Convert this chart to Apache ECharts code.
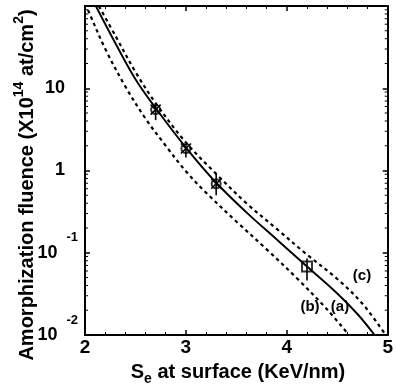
<!DOCTYPE html>
<html>
<head>
<meta charset="utf-8">
<script src="https://cdn.jsdelivr.net/npm/echarts@6/dist/echarts.min.js"></script>
<style>
  html, body { margin: 0; padding: 0; background: #fff; }
  #chart { width: 396px; height: 389px; }
</style>
</head>
<body>
<div id="chart"></div>
<script>
  // curve (a): solid
  const seA = [2.107, 2.3, 2.5, 2.7, 3.0, 3.3, 3.6, 3.9, 4.2, 4.5, 4.7, 4.87];
  const fluA = [100, 35.5, 12.9, 5.75, 1.9, 0.71, 0.31, 0.145, 0.068, 0.032, 0.018, 0.01];
  // curve (b): lower dashed
  const seB = [2.0, 2.03, 2.2, 2.4, 2.6, 2.8, 3.0, 3.2, 3.5, 3.8, 4.1, 4.4, 4.63];
  const fluB = [107, 89, 30.2, 10.5, 4.27, 2.0, 0.977, 0.537, 0.24, 0.11, 0.049, 0.0204, 0.0095];
  // curve (c): upper dashed
  const seC = [2.137, 2.3, 2.5, 2.7, 3.0, 3.3, 3.6, 3.9, 4.2, 4.5, 4.75, 4.98];
  const fluC = [100, 43.7, 15.8, 6.6, 2.19, 0.91, 0.40, 0.195, 0.095, 0.048, 0.024, 0.01];

  // measured points
  const expSe = [2.7, 3.0, 3.3, 4.2];
  const expFlu = [5.5, 1.85, 0.69, 0.068];
  const expLow = [4.1, 1.44, 0.50, 0.046];
  const expHigh = [6.6, 2.1, 0.92, 0.085];
  const expKind = ["circle", "circle", "circle", "square"];

  const yMinor = [];
  [0.01, 0.1, 1, 10].forEach((d) => {
    for (let k = 2; k <= 9; k++) yMinor.push(d * k);
  });

  const curveLabels = ["(a)", "(b)", "(c)"];

  const pairs = (xs, ys) => xs.map((x, i) => [x, ys[i]]);
  const font = "Liberation Sans";

  const chart = echarts.init(document.getElementById("chart"), null, { renderer: "canvas" });

  const baseX = {
    type: "value",
    min: 2,
    max: 5,
    interval: 1,
    axisLine: { show: true, onZero: false, lineStyle: { color: "#000", width: 2 } },
    axisTick: { show: true, inside: true, length: 5, lineStyle: { color: "#000", width: 1.5 } },
    minorTick: { show: true, splitNumber: 5, length: 3, lineStyle: { color: "#000", width: 1 } },
    splitLine: { show: false }
  };
  const baseY = {
    type: "log",
    logBase: 10,
    min: 0.01,
    max: 100,
    axisLine: { show: true, onZero: false, lineStyle: { color: "#000", width: 2 } },
    axisTick: { show: true, inside: true, length: 5, lineStyle: { color: "#000", width: 1.5 } },
    splitLine: { show: false }
  };

  const lineSeries = (xs, ys, dashed) => ({
    type: "line",
    smooth: 0.35,
    symbol: "none",
    clip: true,
    data: pairs(xs, ys),
    lineStyle: dashed
      ? { color: "#000", width: 2.2, type: [3.5, 3.5] }
      : { color: "#000", width: 1.9 }
  });

  chart.setOption({
    animation: false,
    grid: { left: 85, right: 4, top: 6, bottom: 54, containLabel: false },
    xAxis: [
      Object.assign({}, baseX, {
        position: "bottom",
        axisLabel: {
          margin: 3, color: "#000", fontFamily: font, fontWeight: "bold", fontSize: 19
        }
      }),
      Object.assign({}, baseX, { position: "top", axisLabel: { show: false } })
    ],
    yAxis: [
      Object.assign({}, baseY, {
        position: "left",
        axisLabel: {
          margin: 7,
          color: "#000",
          formatter(v) {
            const e = Math.round(Math.log10(v));
            if (e >= 2) return "";
            if (e === 1) return "{b|10}{sp| }";
            if (e === 0) return "{b|1}{sp| }";
            return "{b|10}{sup|" + e + "}";
          },
          rich: {
            b: { fontFamily: font, fontWeight: "bold", fontSize: 18, color: "#000" },
            sp: { width: 13, fontSize: 13 },
            sup: { fontFamily: font, fontWeight: "bold", fontSize: 13, color: "#000", padding: [0, 0, 30, 9] }
          }
        }
      }),
      Object.assign({}, baseY, { position: "right", axisLabel: { show: false } })
    ],
    series: [
      lineSeries(seA, fluA, false),
      lineSeries(seB, fluB, true),
      lineSeries(seC, fluC, true),
      {
        // error bars and asterisk strokes
        type: "custom",
        data: expSe.map((x, i) => [x, expLow[i], expHigh[i], expFlu[i], expKind[i] === "circle" ? 1 : 0]),
        renderItem(params, api) {
          const x = api.value(0);
          const lo = api.coord([x, api.value(1)]);
          const hi = api.coord([x, api.value(2)]);
          const c = api.coord([x, api.value(3)]);
          const stroke = { stroke: "#000", lineWidth: 1.6 };
          const children = [
            { type: "line", shape: { x1: lo[0], y1: lo[1], x2: hi[0], y2: hi[1] }, style: stroke }
          ];
          if (api.value(4) === 1) {
            const r = 5;
            children.push(
              { type: "line", shape: { x1: c[0] - r, y1: c[1] - r, x2: c[0] + r, y2: c[1] + r }, style: stroke },
              { type: "line", shape: { x1: c[0] - r, y1: c[1] + r, x2: c[0] + r, y2: c[1] - r }, style: stroke }
            );
          }
          return { type: "group", children };
        },
        z: 4
      },
      {
        type: "scatter",
        data: expSe.map((x, i) => ({
          value: [x, expFlu[i]],
          symbol: expKind[i] === "circle" ? "circle" : "rect",
          symbolSize: expKind[i] === "circle" ? 9 : 10
        })),
        itemStyle: { color: "rgba(255,255,255,0)", borderColor: "#000", borderWidth: 2 },
        z: 5
      },
      {
        // log minor ticks on left and right frame
        type: "custom",
        data: yMinor.map((v) => [2, v]),
        renderItem(params, api) {
          const v = api.value(1);
          const l = api.coord([2, v]);
          const r = api.coord([5, v]);
          const stroke = { stroke: "#000", lineWidth: 1 };
          return {
            type: "group",
            children: [
              { type: "line", shape: { x1: l[0], y1: l[1], x2: l[0] + 3, y2: l[1] }, style: stroke },
              { type: "line", shape: { x1: r[0], y1: r[1], x2: r[0] - 3, y2: r[1] }, style: stroke }
            ]
          };
        },
        silent: true
      }
    ],
    graphic: [
      {
        type: "text",
        x: 238, y: 372,
        style: {
          text: "{b|S}{sub|e}{b| at surface (KeV/nm)}",
          align: "center", verticalAlign: "middle",
          rich: {
            b: { fontFamily: font, fontWeight: "bold", fontSize: 20, fill: "#000" },
            sub: { fontFamily: font, fontWeight: "bold", fontSize: 14, fill: "#000", padding: [14, 0, 0, 0] }
          }
        }
      },
      {
        type: "text",
        x: 27, y: 185,
        rotation: Math.PI / 2,
        style: {
          text: "{b|Amorphization fluence (X10}{sup|14}{b| at/cm}{sup|2}{b|)}",
          align: "center", verticalAlign: "middle",
          rich: {
            b: { fontFamily: font, fontWeight: "bold", fontSize: 20, fill: "#000" },
            sup: { fontFamily: font, fontWeight: "bold", fontSize: 14, fill: "#000", padding: [0, 0, 16, 0] }
          }
        }
      },
      {
        type: "text", x: 310, y: 307,
        style: { text: curveLabels[1], align: "center", verticalAlign: "middle", fontFamily: font, fontWeight: "bold", fontSize: 15, fill: "#000" }
      },
      {
        type: "text", x: 340, y: 307,
        style: { text: curveLabels[0], align: "center", verticalAlign: "middle", fontFamily: font, fontWeight: "bold", fontSize: 15, fill: "#000" }
      },
      {
        type: "text", x: 362, y: 276,
        style: { text: curveLabels[2], align: "center", verticalAlign: "middle", fontFamily: font, fontWeight: "bold", fontSize: 15, fill: "#000" }
      }
    ]
  });
</script>
</body>
</html>
